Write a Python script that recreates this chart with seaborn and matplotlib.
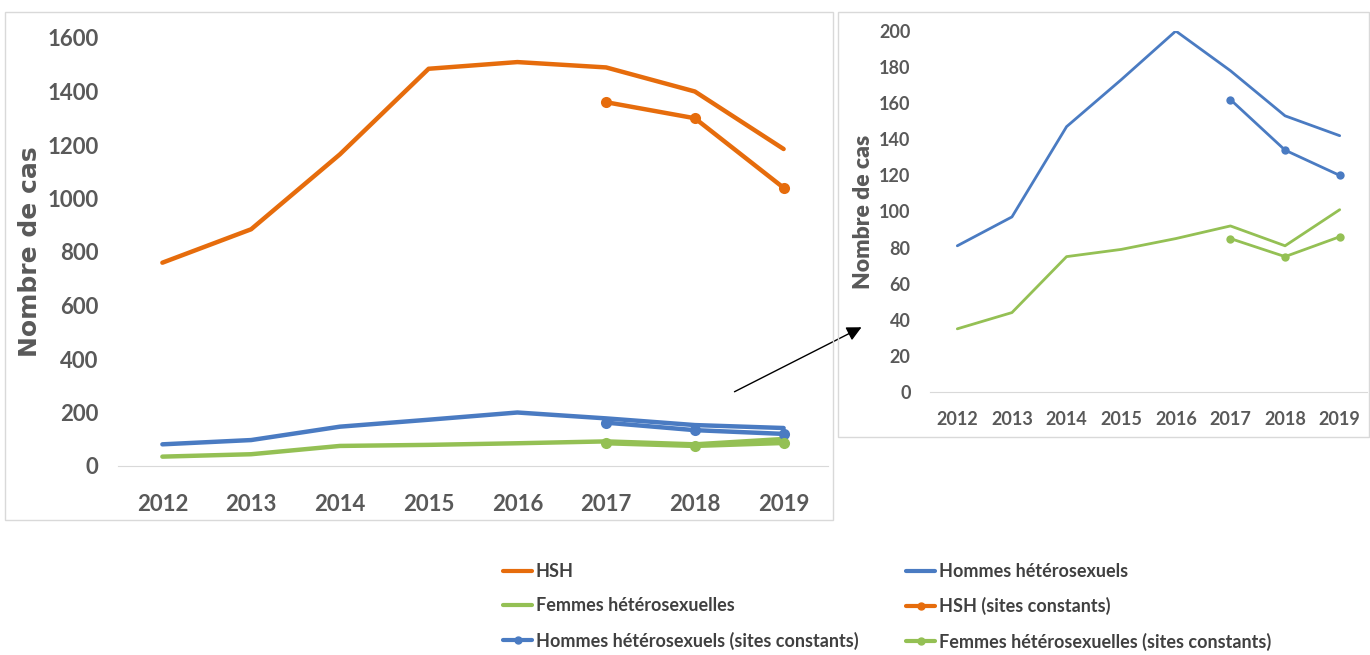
import numpy as np
import pandas as pd
import matplotlib
matplotlib.use("Agg")
import matplotlib.pyplot as plt
import seaborn as sns
from matplotlib.patches import Rectangle, FancyArrowPatch

years = [2012, 2013, 2014, 2015, 2016, 2017, 2018, 2019]
years_const = [2017, 2018, 2019]

hsh = [760, 885, 1165, 1485, 1510, 1490, 1400, 1185]
hommes = [81, 97, 147, 173, 200, 178, 153, 142]
femmes = [35, 44, 75, 79, 85, 92, 81, 101]
hsh_const = [1360, 1300, 1040]
hommes_const = [162, 134, 120]
femmes_const = [85, 75, 86]

labels = ["HSH", "Hommes hétérosexuels", "Femmes hétérosexuelles",
          "HSH (sites constants)", "Hommes hétérosexuels (sites constants)",
          "Femmes hétérosexuelles (sites constants)"]

orange = "#E66C0C"
blue = "#4A7BC2"
green = "#94C054"
grey = "#595959"
colors = [orange, blue, green, orange, blue, green]

sns.set_style("white")
plt.rcParams["font.family"] = ["Lato", "DejaVu Sans"]

full = pd.DataFrame({"annee": years * 3,
                     "cas": hsh + hommes + femmes,
                     "groupe": [labels[0]] * 8 + [labels[1]] * 8 + [labels[2]] * 8})
const = pd.DataFrame({"annee": years_const * 3,
                      "cas": hsh_const + hommes_const + femmes_const,
                      "groupe": [labels[3]] * 3 + [labels[4]] * 3 + [labels[5]] * 3})
pal = dict(zip(labels, colors))

W, H = 1370, 655
fig = plt.figure(figsize=(13.7, 6.55), dpi=100)


def fx(px):
    return px / W


def fy(py):
    return 1 - py / H


# panel frames
fig.patches.append(Rectangle((fx(5), fy(520)), 828 / W, 508 / H,
                             transform=fig.transFigure, fill=False, ec="#D9D9D9", lw=1))
fig.patches.append(Rectangle((fx(838), fy(437)), 531 / W, 425 / H,
                             transform=fig.transFigure, fill=False, ec="#D9D9D9", lw=1))

ax1 = fig.add_axes([fx(118), fy(466), 710 / W, 428 / H])
ax2 = fig.add_axes([fx(930), fy(392), 437 / W, 361 / H])


def style_axis(ax, ymax, step, fs, tick_len, xpad, ypad):
    ax.set_xlim(2011.5, 2019.5)
    ax.set_ylim(0, ymax)
    ax.set_yticks(np.arange(0, ymax + 1, step))
    ax.set_xticks(years)
    ax.set_xticks(np.arange(2011.5, 2020, 1), minor=True)
    for s in ["top", "right", "left"]:
        ax.spines[s].set_visible(False)
    ax.spines["bottom"].set_color("#D9D9D9")
    ax.tick_params(axis="x", which="major", length=0, pad=xpad,
                   labelsize=fs, labelcolor=grey)
    ax.tick_params(axis="x", which="minor", length=tick_len, color="#D9D9D9")
    ax.tick_params(axis="y", length=0, labelsize=fs, labelcolor=grey, pad=ypad)
    for t in ax.get_xticklabels() + ax.get_yticklabels():
        t.set_fontweight("bold")
    ax.set_xlabel("")
    ax.patch.set_alpha(0)


# left: all groups
sns.lineplot(data=full, x="annee", y="cas", hue="groupe", palette=pal,
             lw=3.2, ax=ax1, legend=False)
sns.lineplot(data=const, x="annee", y="cas", hue="groupe", palette=pal,
             lw=3.2, marker="o", markersize=8, markeredgewidth=0, ax=ax1, legend=False)
style_axis(ax1, 1600, 200, 16, 9, 20, 14)
ax1.set_ylabel("Nombre de cas", family="DejaVu Sans", fontweight="bold",
               fontsize=18, color=grey)
ax1.yaxis.set_label_coords(-(118 - 42) / 710, 0.5)

# right: zoom on heterosexual groups
sub_full = full[full["groupe"] != labels[0]]
sub_const = const[const["groupe"] != labels[3]]
sns.lineplot(data=sub_full, x="annee", y="cas", hue="groupe", palette=pal,
             lw=2, ax=ax2, legend=False)
sns.lineplot(data=sub_const, x="annee", y="cas", hue="groupe", palette=pal,
             lw=2, marker="o", markersize=6, markeredgewidth=0, ax=ax2, legend=False)
style_axis(ax2, 200, 20, 13, 6, 14, 14)
ax2.set_ylabel("Nombre de cas", fontweight="heavy", fontsize=16.5, color=grey)
ax2.yaxis.set_label_coords(-(930 - 874) / 437, 0.5)

# arrow between panels
fig.add_artist(FancyArrowPatch((fx(732), fy(393)), (fx(864), fy(326)),
                               transform=fig.transFigure, arrowstyle="-|>",
                               mutation_scale=22, lw=1, color="black"))

# legend in two columns, row-major order as in the reference
handles = [plt.Line2D([], [], color=c, lw=3,
                      marker="o" if "constants" in lab else None, markersize=5)
           for lab, c in zip(labels, colors)]
leg_kw = dict(loc="upper left", frameon=False, handlelength=1.6, handletextpad=0.2,
              labelspacing=0.95, labelcolor="#404040", borderaxespad=0,
              prop={"family": "Lato", "weight": "bold", "size": 13})
for idx, x0 in [([0, 2, 4], 496), ([1, 3, 5], 899)]:
    fig.legend([handles[i] for i in idx], [labels[i] for i in idx],
               bbox_to_anchor=(fx(x0), fy(556)), **leg_kw)

fig.savefig("out.png", dpi=100)
